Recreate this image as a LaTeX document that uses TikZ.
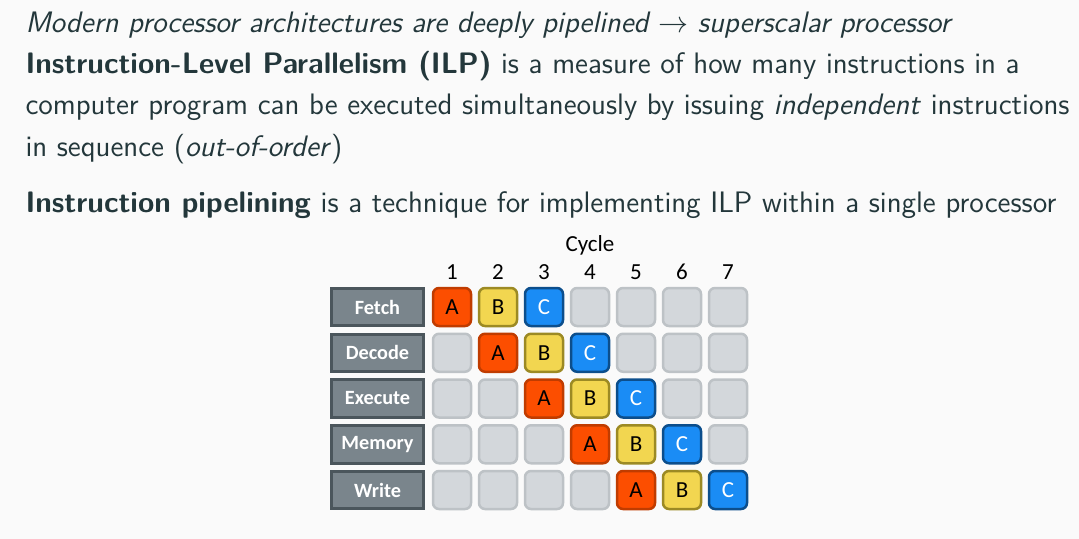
\documentclass[tikz,border=0pt]{standalone}
\usepackage{fontspec}
\setsansfont{Latin Modern Sans}
\newfontfamily\calfont{Carlito}
\definecolor{bgcol}{HTML}{FAFAFA}
\definecolor{txtcol}{HTML}{23373B}
\definecolor{stagefill}{HTML}{7A858C}
\definecolor{stageline}{HTML}{4B565C}
\definecolor{afill}{HTML}{FC4E00}
\definecolor{aline}{HTML}{C03C00}
\definecolor{bfill}{HTML}{F2D650}
\definecolor{bline}{HTML}{9C8A24}
\definecolor{cfill}{HTML}{1A8CF5}
\definecolor{cline}{HTML}{0C4E8C}
\definecolor{efill}{HTML}{D3D7DB}
\definecolor{eline}{HTML}{BDC2C6}
\begin{document}
\begin{tikzpicture}[x=0.4pt,y=-0.4pt,
  txt/.style={anchor=base west,inner sep=0pt,text=txtcol,
    font=\sffamily\fontsize{11.85pt}{14pt}\selectfont},
  stage/.style={draw=stageline,fill=stagefill,line width=1.2pt,
    minimum width=37pt,minimum height=15pt,inner sep=0pt,text=white,
    font=\calfont\bfseries\fontsize{8.1pt}{10pt}\selectfont},
  cell/.style={line width=1pt,rounded corners=2.4pt,minimum size=15.2pt,
    inner sep=0pt,font=\calfont\fontsize{9.2pt}{10pt}\selectfont},
  ins0/.style={cell,draw=aline,fill=afill,text=black},
  ins1/.style={cell,draw=bline,fill=bfill,text=black},
  ins2/.style={cell,draw=cline,fill=cfill,text=white},
  ins9/.style={cell,draw=eline,fill=efill},
  hdr/.style={inner sep=0pt,text=black,font=\calfont\fontsize{9.2pt}{10pt}\selectfont}]
\fill[bgcol] (0,0) rectangle (1079,539);
\useasboundingbox (0,0) rectangle (1079,539);

% text lines
\node[txt] (l1) at (25,33) {\itshape Modern processor architectures are deeply pipelined {\upshape$\rightarrow$} superscalar processor};
\node[txt] (l2) at (25,74) {\bfseries Instruction-Level Parallelism (ILP)\mdseries{} is a measure of how many instructions in a};
\node[txt] (l3) at (25,115) {computer program can be executed simultaneously by issuing \textit{independent} instructions};
\node[txt] (l4) at (25,157) {in sequence (\textit{out-of-order})};
\node[txt] (l5) at (25,213) {\textbf{Instruction pipelining} is a technique for implementing ILP within a single processor};

% cycle header
\node[hdr] (cyc) at (590,245) {Cycle};
\foreach \c in {1,...,7}
  \node[hdr] (n\c) at ({452+46*(\c-1)},272) {\c};

% stages and cells
\foreach \r/\nm in {1/Fetch,2/Decode,3/Execute,4/Memory,5/Write} {
  \node[stage] (s\r) at (377.5,{307+45.75*(\r-1)}) {\nm};
  \foreach \c in {1,...,7} {
    \pgfmathtruncatemacro\k{\c-\r}
    \ifnum\k<0 \def\k{9}\fi
    \ifnum\k>2 \def\k{9}\fi
    \node[ins\k] (c\r-\c) at ({452+46*(\c-1)},{307+45.75*(\r-1)})
      {\ifcase\k A\or B\or C\else\fi};
  }
}
\end{tikzpicture}
\end{document}
